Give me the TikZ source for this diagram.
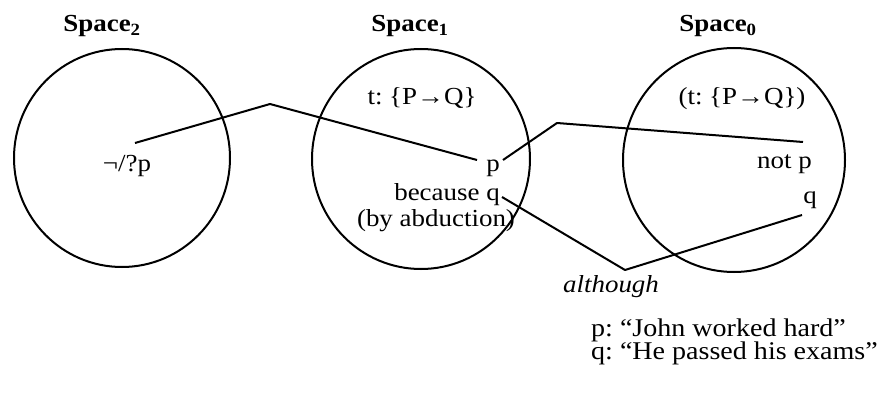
\documentclass[tikz,border=0pt]{standalone}
\usepackage{fontspec}
\setmainfont[FakeStretch=1.1]{Liberation Serif}
\frenchspacing
\begin{document}
\begin{tikzpicture}[x=1pt,y=-1pt,
  space/.style={draw,line width=2pt},
  link/.style={line width=2pt,line join=round},
  lab/.style={inner sep=0pt,font=\fontsize{24.5}{28}\selectfont},
  leg/.style={inner sep=0pt,font=\fontsize{25.5}{28}\selectfont},
  ttl/.style={inner sep=0pt,font=\fontsize{24.5}{28}\selectfont\bfseries}]
\useasboundingbox (0,0) rectangle (884,396);
% circles
\draw[space] (122,158) circle[x radius=108,y radius=109];
\draw[space] (421,159) circle[x radius=109,y radius=110];
\draw[space] (734,160) circle[x radius=111,y radius=112];
% titles
\node[ttl,anchor=base] (s2) at (102,32) {Space\textsubscript{\textbf{2}}};
\node[ttl,anchor=base] (s1) at (410,32) {Space\textsubscript{\textbf{1}}};
\node[ttl,anchor=base] (s0) at (718,32) {Space\textsubscript{\textbf{0}}};
% texts
\node[lab,anchor=base] (negp) at (127,171) {¬/?p};
\node[lab,anchor=base] (tpq) at (422,104) {t: \{P→Q\}};
\node[lab,anchor=base east] (p1) at (500,171) {p};
\node[lab,anchor=base east] (bq) at (500,200) {because q};
\node[lab,anchor=base] (abd) at (436,226) {(by abduction)};
\node[lab,anchor=base] (tpq0) at (742,104) {(t: \{P→Q\})};
\node[lab,anchor=base east] (notp) at (812,168) {not p};
\node[lab,anchor=base east] (q0) at (817,203) {q};
\node[lab,anchor=base,font=\fontsize{24.5}{28}\selectfont\itshape] (although) at (611,292) {although};
\node[leg,anchor=base west] (legp) at (591,336) {p: “John worked hard”};
\node[leg,anchor=base west] (legq) at (591,359) {q: “He passed his exams”};
% connectors
\coordinate (a1) at (135,143);
\coordinate (b1) at (270,104);
\coordinate (c1) at (477,160);
\coordinate (a2) at (503,160);
\coordinate (b2) at (557,123);
\coordinate (c2) at (803,142);
\coordinate (a3) at (502,197);
\coordinate (b3) at (625,270);
\coordinate (c3) at (802,215);
\draw[link] (a1) -- (b1) -- (c1);
\draw[link] (a2) -- (b2) -- (c2);
\draw[link] (a3) -- (b3) -- (c3);
\end{tikzpicture}
\end{document}
